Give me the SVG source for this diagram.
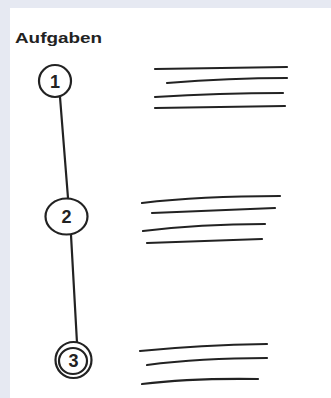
<svg xmlns="http://www.w3.org/2000/svg" width="331" height="398" viewBox="0 0 331 398">
<style>
.ink{fill:none;stroke:#222;stroke-width:2.2;stroke-linecap:round;stroke-linejoin:round}
.bubble{fill:#fff;stroke:#222;stroke-width:2.2}
.num{font-family:"Liberation Sans",Arial,sans-serif;font-size:18px;fill:#222;text-anchor:middle;font-weight:bold}
.title{font-family:"Liberation Sans",Arial,sans-serif;font-size:15px;fill:#222;font-weight:bold}
</style>
<rect x="0" y="0" width="331" height="398" fill="#e6e9f2"/>
<rect x="10" y="8" width="321" height="390" fill="#fff"/>
<text class="title" x="15" y="43" textLength="87" lengthAdjust="spacingAndGlyphs">Aufgaben</text>
<g id="connectors">
<path class="ink" d="M60 97 L68 198"/>
<path class="ink" d="M71 235 L77 343"/>
</g>
<g id="node1">
<ellipse class="bubble" cx="55" cy="81" rx="16" ry="16"/>
<text class="num" x="55" y="87.5">1</text>
<path class="ink" d="M155 69 L287 67 M167 83 Q230 78 287 78 M155 97 Q220 93 283 93 M155 108 L285 106"/>
</g>
<g id="node2">
<ellipse class="bubble" cx="66.5" cy="216.5" rx="21" ry="18"/>
<text class="num" x="66.5" y="223">2</text>
<path class="ink" d="M142 203 Q200 196 280 196 M152 213 L275 208 M143 231 Q200 224 265 224 M147 243 L262 239"/>
</g>
<g id="node3">
<ellipse class="bubble" cx="73.5" cy="360" rx="18" ry="18"/>
<ellipse class="ink" cx="73" cy="361" rx="14" ry="13" stroke-width="1.5"/>
<text class="num" x="73.5" y="366.5">3</text>
<path class="ink" d="M140 351 Q200 345 267 344 M147 365 Q200 358 267 358 M142 384 Q190 378 258 379"/>
</g>
</svg>
